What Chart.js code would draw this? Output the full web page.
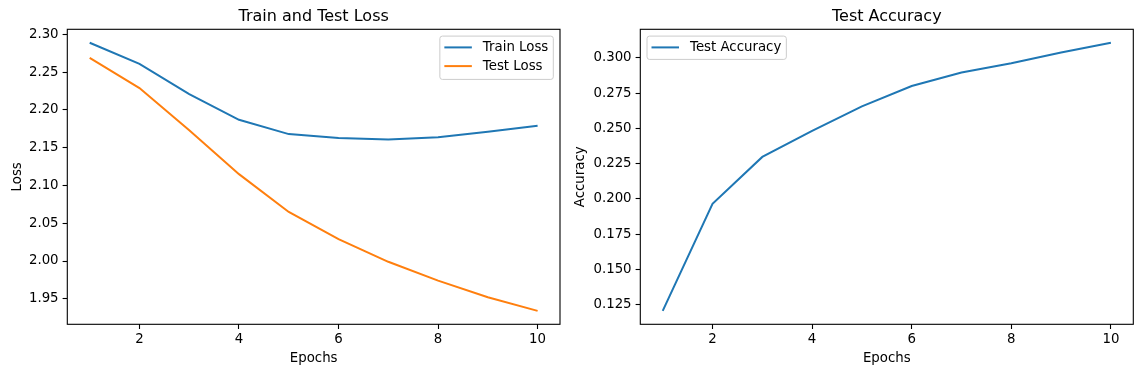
<!DOCTYPE html>
<html>
<head>
<meta charset="utf-8">
<title>Train and Test Loss / Test Accuracy</title>
<script src="https://cdn.jsdelivr.net/npm/chart.js@4.4.1/dist/chart.umd.min.js"></script>
<style>
  html, body { margin: 0; padding: 0; background: #fff; }
  #wrap { position: relative; width: 1142px; height: 374px; }
  canvas { position: absolute; top: 0; }
</style>
</head>
<body>
<div id="wrap">
  <canvas id="loss-chart" width="571" height="374" style="left:0"></canvas>
  <canvas id="acc-chart" width="571" height="374" style="left:571px"></canvas>
</div>
<script>
/* ===== data ===== */
const epochs = [1, 2, 3, 4, 5, 6, 7, 8, 9, 10];
const trainLoss = [2.289, 2.261, 2.221, 2.187, 2.168, 2.163, 2.161, 2.164, 2.171, 2.179];
const testLoss = [2.269, 2.229, 2.173, 2.115, 2.065, 2.029, 1.999, 1.974, 1.952, 1.934];
const testAccuracy = [0.1205, 0.1964, 0.2297, 0.2482, 0.2656, 0.2800, 0.2896, 0.2962, 0.3038, 0.3107];

const epochTicks = [2, 4, 6, 8, 10];
const lossTicks = [1.95, 2.00, 2.05, 2.10, 2.15, 2.20, 2.25, 2.30];
const accTicks = [0.125, 0.150, 0.175, 0.200, 0.225, 0.250, 0.275, 0.300];

const BLUE = '#1f77b4';
const ORANGE = '#ff7f0e';
const FONT = "'DejaVu Sans', sans-serif";
const FS = 13.33;      // 10pt
const TITLE_FS = 16;   // 12pt

// matplotlib-style 5% autoscale margin
function padRange(values) {
  const lo = Math.min(...values), hi = Math.max(...values);
  const m = (hi - lo) * 0.05;
  return { min: lo - m, max: hi + m };
}

const toXY = ys => ys.map((y, i) => ({ x: epochs[i], y }));

/**
 * Draws the axes frame, the title above the plot and a boxed legend
 * inside the plot, the way matplotlib does.
 */
const mplFrame = {
  id: 'mplFrame',
  afterDraw(chart, args, opts) {
    const { ctx, chartArea: a } = chart;
    ctx.save();

    ctx.strokeStyle = '#000';
    ctx.lineWidth = 1.1;
    ctx.strokeRect(a.left, a.top, a.right - a.left, a.bottom - a.top);

    ctx.fillStyle = '#000';
    ctx.font = `${TITLE_FS}px ${FONT}`;
    ctx.textAlign = 'center';
    ctx.textBaseline = 'alphabetic';
    ctx.fillText(opts.title, (a.left + a.right) / 2, a.top - 8);

    // legend
    const sets = chart.data.datasets;
    ctx.font = `${FS}px ${FONT}`;
    const textW = Math.max(...sets.map(d => ctx.measureText(d.label).width));
    const w = 4.5 + 27.5 + 11 + textW + 5;
    const h = 23.3 + (sets.length - 1) * 20;
    const x0 = opts.legend === 'upper left' ? a.left + 6.7 : a.right - 6.7 - w;
    const y0 = a.top + 6.8;

    ctx.beginPath();
    ctx.roundRect(x0, y0, w, h, 2.5);
    ctx.fillStyle = 'rgba(255,255,255,0.8)';
    ctx.fill();
    ctx.strokeStyle = '#cccccc';
    ctx.lineWidth = 1;
    ctx.stroke();

    ctx.textAlign = 'left';
    ctx.textBaseline = 'middle';
    sets.forEach((d, i) => {
      const cy = y0 + 11.3 + i * 18.7;
      ctx.beginPath();
      ctx.moveTo(x0 + 4.5, cy);
      ctx.lineTo(x0 + 32, cy);
      ctx.strokeStyle = d.borderColor;
      ctx.lineWidth = 2;
      ctx.stroke();
      ctx.fillStyle = '#000';
      ctx.fillText(d.label, x0 + 43, cy + 0.5);
    });
    ctx.restore();
  }
};

function makeChart(canvasId, cfg) {
  const yRange = padRange(cfg.datasets.flatMap(d => d.data.map(p => p.y)));
  return new Chart(document.getElementById(canvasId), {
    type: 'line',
    data: { datasets: cfg.datasets },
    plugins: [mplFrame],
    options: {
      responsive: false,
      animation: false,
      layout: { padding: { top: 29.3, right: cfg.padRight, left: 0, bottom: 0 } },
      elements: {
        line: { borderWidth: 2, tension: 0, fill: false },
        point: { radius: 0, hoverRadius: 0 }
      },
      plugins: {
        legend: { display: false },
        tooltip: { enabled: false },
        mplFrame: { title: cfg.title, legend: cfg.legend }
      },
      scales: {
        x: {
          type: 'linear',
          min: 0.55,
          max: 10.45,
          afterBuildTicks: s => { s.ticks = epochTicks.map(v => ({ value: v })); },
          afterFit: s => { s.height = 49.7; },
          ticks: { color: '#000', font: { family: FONT, size: FS }, padding: 2.5, maxRotation: 0 },
          grid: { drawOnChartArea: false, tickLength: 4.7, tickColor: '#000', tickWidth: 1.1 },
          border: { display: false },
          title: {
            display: true, text: 'Epochs', color: '#000',
            font: { family: FONT, size: FS }, padding: { top: 0, bottom: 7.5 }
          }
        },
        y: {
          type: 'linear',
          min: yRange.min,
          max: yRange.max,
          afterBuildTicks: s => { s.ticks = cfg.yTicks.map(v => ({ value: v })); },
          afterFit: s => { s.width = cfg.yWidth; },
          ticks: {
            color: '#000', font: { family: FONT, size: FS }, padding: 4,
            callback: v => Number(v).toFixed(cfg.decimals)
          },
          grid: { drawOnChartArea: false, tickLength: 4.7, tickColor: '#000', tickWidth: 1.1 },
          border: { display: false },
          title: {
            display: true, text: cfg.yTitle, color: '#000',
            font: { family: FONT, size: FS }, padding: { top: cfg.yTitlePad, bottom: 0 }
          }
        }
      }
    }
  });
}

makeChart('loss-chart', {
  title: 'Train and Test Loss',
  legend: 'upper right',
  yTitle: 'Loss',
  yTitlePad: 10,
  yTicks: lossTicks,
  decimals: 2,
  yWidth: 67.3,
  padRight: 11,
  datasets: [
    { label: 'Train Loss', data: toXY(trainLoss), borderColor: BLUE },
    { label: 'Test Loss', data: toXY(testLoss), borderColor: ORANGE }
  ]
});

makeChart('acc-chart', {
  title: 'Test Accuracy',
  legend: 'upper left',
  yTitle: 'Accuracy',
  yTitlePad: 2,
  yTicks: accTicks,
  decimals: 3,
  yWidth: 69.3,
  padRight: 8.7,
  datasets: [
    { label: 'Test Accuracy', data: toXY(testAccuracy), borderColor: BLUE }
  ]
});
</script>
</body>
</html>
